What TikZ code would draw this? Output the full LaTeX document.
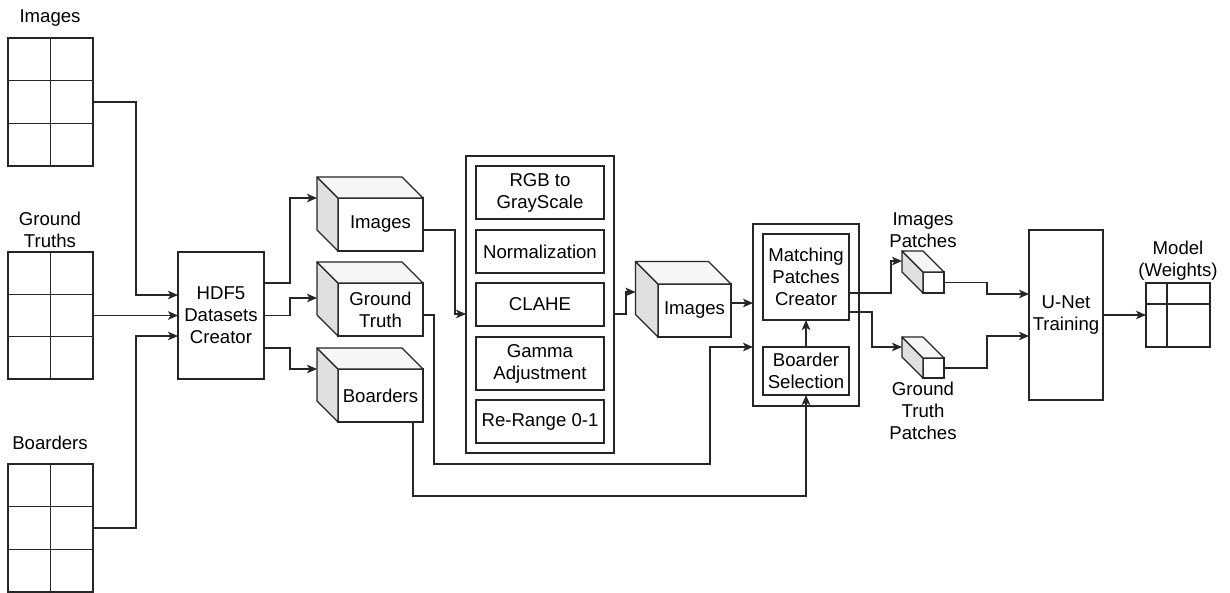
\documentclass[tikz,border=0pt]{standalone}
\usepackage{fontspec}
\setmainfont{Liberation Sans}
\usetikzlibrary{calc,arrows.meta}
\newcommand\cubefaces[2]{%
  \draw[face, fill=gray!25] (#1.north west) -- ++(-#2,-#2) -- ($(#1.south west)+(-#2,-#2)$) -- (#1.south west) -- cycle;
  \draw[face, fill=gray!7] (#1.north west) -- ++(-#2,-#2) -- ($(#1.north east)+(-#2,-#2)$) -- (#1.north east) -- cycle;
}
\newcommand\gridlines[1]{%
  \draw[conn] (#1.north) -- (#1.south);
  \draw[conn] ($(#1.north west)!1/3!(#1.south west)$) -- ($(#1.north east)!1/3!(#1.south east)$);
  \draw[conn] ($(#1.north west)!2/3!(#1.south west)$) -- ($(#1.north east)!2/3!(#1.south east)$);
}
\begin{document}
\begin{tikzpicture}[x=1pt,y=-1pt,
  font=\fontsize{18.6}{22}\selectfont,
  box/.style={draw=black!85, line width=1.3pt, fill=white, inner sep=0pt, outer sep=0pt, align=center},
  conn/.style={draw=black!85, line width=1.3pt},
  arr/.style={conn, -{Stealth[length=10pt,width=8.5pt,inset=2.5pt]}},
  lbl/.style={align=center, inner sep=0pt},
  face/.style={draw=black!85, line width=1.3pt, line join=round},
]
\useasboundingbox (0,0) rectangle (1230,592);
\fill[white] (0,0) rectangle (1230,592);

% input grids
\node[lbl] (lI) at (50,18) {Images};
\node[lbl] (lG) at (50,230) {Ground\\Truths};
\node[lbl] (lB) at (50,443) {Boarders};
\node[box, minimum width=85, minimum height=128] (gI) at (50.5,102) {};
\node[box, minimum width=85, minimum height=127] (gG) at (50.5,315.5) {};
\node[box, minimum width=85, minimum height=128] (gB) at (50.5,528) {};
\gridlines{gI}
\gridlines{gG}
\gridlines{gB}

% HDF5
\node[box, minimum width=86, minimum height=127] (hdf) at (221,315.5) {HDF5\\Datasets\\Creator};

% cubes
\node[box, minimum width=85, minimum height=53] (cI) at (380.5,224.5) {Images};
\node[box, minimum width=85, minimum height=53] (cG) at (380.5,309.5) {Ground\\Truth};
\node[box, minimum width=85, minimum height=53] (cB) at (380.5,395.5) {Boarders};
\cubefaces{cI}{21}
\cubefaces{cG}{21}
\cubefaces{cB}{21}

% preprocessing
\node[box, minimum width=148, minimum height=297] (pre) at (540,304.5) {};
\node[box, minimum width=128, minimum height=53] (rgb) at (540,192.5) {RGB to\\GrayScale};
\node[box, minimum width=128, minimum height=43] (norm) at (540,251.5) {Normalization};
\node[box, minimum width=128, minimum height=43] (clahe) at (540,304.5) {CLAHE};
\node[box, minimum width=128, minimum height=53] (gam) at (540,363.5) {Gamma\\Adjustment};
\node[box, minimum width=128, minimum height=43] (rr) at (540,421.5) {Re-Range 0-1};

% processed images cube
\node[box, minimum width=73, minimum height=53] (cI2) at (694.5,310.5) {Images};
\cubefaces{cI2}{22.5}

% matching patches
\node[box, minimum width=106, minimum height=182] (mbox) at (806,315) {};
\node[box, minimum width=86, minimum height=86] (mpc) at (806,277) {Matching\\Patches\\Creator};
\node[box, minimum width=86, minimum height=48] (bs) at (806,371) {Boarder\\Selection};

% patch cubes
\node[lbl] (lIP) at (923,230) {Images\\Patches};
\node[lbl] (lGP) at (923,411) {Ground\\Truth\\Patches};
\node[box, minimum width=21, minimum height=21] (pI) at (933.5,282.5) {};
\node[box, minimum width=21, minimum height=20] (pG) at (933.5,368) {};
\cubefaces{pI}{21}
\cubefaces{pG}{21}

% U-Net and model
\node[box, minimum width=74, minimum height=170] (unet) at (1066,315) {U-Net\\Training};
\node[lbl] (lM) at (1178,261) {Model\\(Weights)};
\node[box, minimum width=64, minimum height=64] (model) at (1178,315) {};
\draw[conn] ($(model.north west)+(21,0)$) -- ($(model.south west)+(21,0)$);
\draw[conn] ($(model.north west)+(0,21)$) -- ($(model.north east)+(0,21)$);

% connectors
\draw[arr] (gI.east) -| ($(hdf.west)+(-42,-20.5)$) -- ($(hdf.west)+(0,-20.5)$);
\draw[arr] (gG.east) -- (hdf.west);
\draw[arr] (gB.east) -| ($(hdf.west)+(-42,20.5)$) -- ($(hdf.west)+(0,20.5)$);

\draw[arr] ($(hdf.east)+(0,-32.5)$) -| ($(cI.north west)+(-48,0)$) -- ($(cI.north west)+(-21,0)$);
\draw[arr] (hdf.east) -| ($(cG.west)+(-48,-11.5)$) -- ($(cG.west)+(-21,-11.5)$);
\draw[arr] ($(hdf.east)+(0,32.5)$) -| ($(cB.north west)+(-48,0)$) -- ($(cB.north west)+(-21,0)$);

\draw[arr] ($(cI.east)+(0,5.5)$) -| ($(pre.west)+(-11,9.5)$) -- ($(pre.west)+(0,9.5)$);
\draw[arr] ($(cG.east)+(0,5.5)$) -| ($(cG.east)+(11,154.5)$) -| ($(mbox.west)+(-43,32)$) -- ($(mbox.west)+(0,32)$);
\draw[arr] ($(cB.south)+(32.5,0)$) |- ($(bs.south)+(0,101)$) -- (bs.south);

\draw[arr] ($(pre.east)+(0,9.5)$) -| ($(cI2.west)+(-32,-18.5)$) -- ($(cI2.west)+(-22.5,-18.5)$);
\draw[arr] ($(cI2.east)+(0,-7.5)$) -- ($(mbox.west)+(0,-12)$);
\draw[arr] (bs.north) -- (mpc.south);

\draw[arr] ($(mpc.east)+(0,16)$) -| ($(pI.west)+(-32,-21.5)$) -- ($(pI.west)+(-21,-21.5)$);
\draw[arr] ($(mpc.east)+(0,35)$) -| ($(pG.west)+(-51,-21)$) -- ($(pG.west)+(-21,-21)$);

\draw[arr] (pI.east) -| ($(unet.west)+(-42,-21)$) -- ($(unet.west)+(0,-21)$);
\draw[arr] (pG.east) -| ($(unet.west)+(-42,21)$) -- ($(unet.west)+(0,21)$);
\draw[arr] (unet.east) -- (model.west);
\end{tikzpicture}
\end{document}
